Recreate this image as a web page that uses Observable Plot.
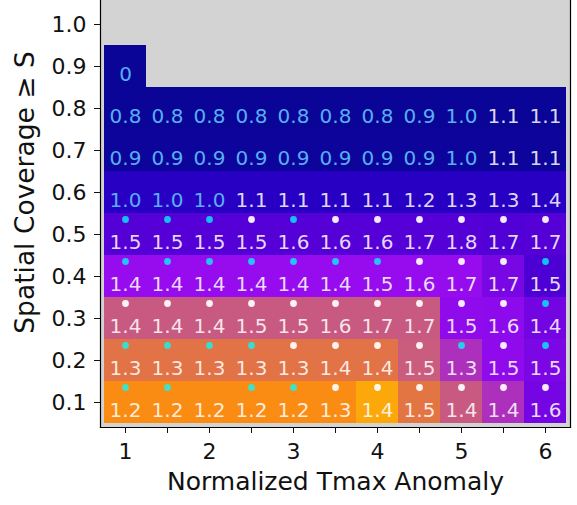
<!DOCTYPE html>
<html><head><meta charset="utf-8">
<script src="https://cdn.jsdelivr.net/npm/d3@7"></script>
<script src="https://cdn.jsdelivr.net/npm/@observablehq/plot@0.6"></script>
<style>body{margin:0;background:#fff} svg{display:block}</style>
</head><body><div id="chart"></div>
<script>
// Column bins (Normalized Tmax Anomaly) and row bins (Spatial Coverage >= S), top row first
const tmaxBins = [1, 1.5, 2, 2.5, 3, 3.5, 4, 4.5, 5, 5.5, 6];
const coverageBins = [1.0, 0.9, 0.8, 0.7, 0.6, 0.5, 0.4, 0.3, 0.2, 0.1];
const xTickLabels = [1, 2, 3, 4, 5, 6];
const yTickLabels = ["1.0", "0.9", "0.8", "0.7", "0.6", "0.5", "0.4", "0.3", "0.2", "0.1"];

// Number printed in each cell (null = no data, shown grey)
const ratioValues = [
  [null, null, null, null, null, null, null, null, null, null, null],
  [0, null, null, null, null, null, null, null, null, null, null],
  [0.8, 0.8, 0.8, 0.8, 0.8, 0.8, 0.8, 0.9, 1.0, 1.1, 1.1],
  [0.9, 0.9, 0.9, 0.9, 0.9, 0.9, 0.9, 0.9, 1.0, 1.1, 1.1],
  [1.0, 1.0, 1.0, 1.1, 1.1, 1.1, 1.1, 1.2, 1.3, 1.3, 1.4],
  [1.5, 1.5, 1.5, 1.5, 1.6, 1.6, 1.6, 1.7, 1.8, 1.7, 1.7],
  [1.4, 1.4, 1.4, 1.4, 1.4, 1.4, 1.5, 1.6, 1.7, 1.7, 1.5],
  [1.4, 1.4, 1.4, 1.5, 1.5, 1.6, 1.7, 1.7, 1.5, 1.6, 1.4],
  [1.3, 1.3, 1.3, 1.3, 1.3, 1.4, 1.4, 1.5, 1.3, 1.5, 1.5],
  [1.2, 1.2, 1.2, 1.2, 1.2, 1.3, 1.4, 1.5, 1.4, 1.4, 1.6]
];

// Colour level of each cell (position on the colour map)
const colourLevels = [
  [null, null, null, null, null, null, null, null, null, null, null],
  [0.1, null, null, null, null, null, null, null, null, null, null],
  [0.1, 0.1, 0.1, 0.1, 0.1, 0.1, 0.1, 0.1, 0.1, 0.1, 0.1],
  [0.11, 0.11, 0.11, 0.11, 0.11, 0.11, 0.11, 0.11, 0.11, 0.11, 0.11],
  [0.2, 0.2, 0.2, 0.2, 0.2, 0.2, 0.2, 0.2, 0.2, 0.2, 0.2],
  [0.3, 0.3, 0.3, 0.3, 0.3, 0.3, 0.3, 0.3, 0.3, 0.29, 0.3],
  [0.4, 0.4, 0.4, 0.4, 0.4, 0.4, 0.4, 0.4, 0.4, 0.355, 0.28],
  [0.55, 0.55, 0.55, 0.55, 0.55, 0.55, 0.55, 0.55, 0.39, 0.385, 0.345],
  [0.7, 0.7, 0.7, 0.7, 0.7, 0.7, 0.7, 0.56, 0.47, 0.39, 0.36],
  [0.85, 0.85, 0.85, 0.85, 0.85, 0.85, 1.0, 0.71, 0.55, 0.47, 0.35]
];

// Significance markers above the numbers: c = cyan dot, w = white dot, - = none
const markerRows = [
  "-----------",
  "-----------",
  "-----------",
  "-----------",
  "-----------",
  "cccwcwwwwww",
  "cccccccwwwc",
  "wwwwwwwwwwc",
  "ccccwwwwcwc",
  "cc-ccwwwwww"
];

const colourStops = [0.1, 0.2, 0.3, 0.4, 0.55, 0.7, 0.85, 1.0];
const colourRamp = ["rgb(10,5,150)", "rgb(40,0,195)", "rgb(85,0,215)", "rgb(150,12,238)",
  "rgb(200,90,130)", "rgb(225,115,70)", "rgb(250,140,20)", "rgb(252,168,10)"];

const cells = [];
coverageBins.forEach((s, i) => {
  tmaxBins.forEach((t, j) => {
    const v = ratioValues[i][j];
    if (v === null) return;
    cells.push({t, s, v, c: colourLevels[i][j], m: markerRows[i][j]});
  });
});
const fmt = v => v === 0 ? "0" : v.toFixed(1);

const chart = Plot.plot({
  width: 577,
  height: 505,
  marginLeft: 100,
  marginRight: 7,
  marginTop: -1,
  marginBottom: 78,
  style: {fontFamily: "DejaVu Sans", background: "white", color: "#111"},
  x: {type: "band", domain: tmaxBins, padding: 0, axis: null},
  y: {type: "band", domain: coverageBins, padding: 0, axis: null},
  color: {type: "linear", domain: colourStops, range: colourRamp, interpolate: "rgb"},
  marks: [
    Plot.frame({fill: "#d3d3d3", stroke: null}),
    Plot.cell(cells, {x: "t", y: "s", fill: "c"}),
    Plot.text(cells.filter(d => d.v <= 1.0), {x: "t", y: "s", text: d => fmt(d.v), dy: 8, fontSize: 20, fill: "#58aef2"}),
    Plot.text(cells.filter(d => d.v > 1.0), {x: "t", y: "s", text: d => fmt(d.v), dy: 8, fontSize: 20, fill: "white", fillOpacity: 0.85}),
    Plot.dot(cells.filter(d => d.m === "c"), {x: "t", y: "s", r: 3.4, dy: -15, fill: "cyan", fillOpacity: 0.75, stroke: null}),
    Plot.dot(cells.filter(d => d.m === "w"), {x: "t", y: "s", r: 3.4, dy: -15, fill: "white", fillOpacity: 0.92, stroke: null}),
    Plot.frame({anchor: "left", stroke: "black", strokeWidth: 1.2}),
    Plot.frame({anchor: "bottom", stroke: "black", strokeWidth: 1.2}),
    Plot.frame({anchor: "right", stroke: "black", strokeWidth: 1.2}),
    Plot.axisX({ticks: tmaxBins, tickFormat: d => xTickLabels.includes(d) ? String(d) : "", tickSize: 6, tickPadding: 10, fontSize: 22, label: null}),
    Plot.axisY({ticks: coverageBins, tickFormat: d => yTickLabels[coverageBins.indexOf(d)], tickSize: 6, tickPadding: 8, fontSize: 22, label: null}),
    Plot.text(["Normalized Tmax Anomaly"], {frameAnchor: "bottom", textAnchor: "middle", lineAnchor: "bottom", dy: 62, fontSize: 25, fill: "#111"}),
    Plot.text(["Spatial Coverage ≥ S"], {frameAnchor: "left", textAnchor: "middle", lineAnchor: "middle", rotate: -90, dx: -75, dy: -21, fontSize: 26.5, fill: "#111"})
  ]
});
document.getElementById("chart").appendChild(chart);
</script>
</body></html>
